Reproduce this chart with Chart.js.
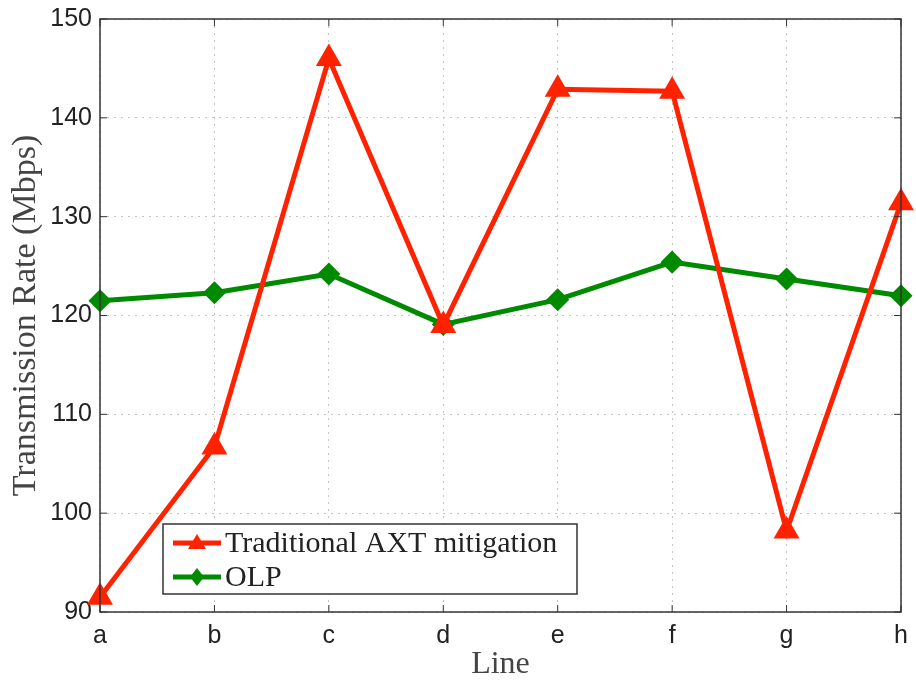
<!DOCTYPE html>
<html>
<head>
<meta charset="utf-8">
<script src="https://cdn.jsdelivr.net/npm/chart.js@4"></script>
<style>
  body { margin: 0; background: #fff; }
  #wrap { width: 916px; height: 681px; }
</style>
</head>
<body>
<div id="wrap"><canvas id="rateChart"></canvas></div>
<script>
const lines = ["a", "b", "c", "d", "e", "f", "g", "h"];
const traditional = [91.5, 106.7, 146.0, 119.0, 142.9, 142.7, 98.2, 131.4];
const olp = [121.5, 122.3, 124.2, 119.1, 121.6, 125.4, 123.7, 122.0];
const yTicks = [90, 100, 110, 120, 130, 140, 150];

const red = "#ff2200";
const green = "#008a00";

// frame, inward ticks and legend drawn like the matlab figure
const framePlugin = {
  id: "frame",
  afterDatasetsDraw(chart) {
    const { ctx, chartArea: a, scales } = chart;
    ctx.save();
    ctx.strokeStyle = "#333";
    ctx.lineWidth = 1.5;
    ctx.strokeRect(a.left, a.top, a.right - a.left, a.bottom - a.top);
    ctx.lineWidth = 1;
    lines.forEach((l, i) => {
      const x = scales.x.getPixelForValue(i);
      ctx.beginPath();
      ctx.moveTo(x, a.bottom); ctx.lineTo(x, a.bottom - 7);
      ctx.moveTo(x, a.top); ctx.lineTo(x, a.top + 7);
      ctx.stroke();
    });
    yTicks.forEach(v => {
      const y = scales.y.getPixelForValue(v);
      ctx.beginPath();
      ctx.moveTo(a.left, y); ctx.lineTo(a.left + 7, y);
      ctx.moveTo(a.right, y); ctx.lineTo(a.right - 7, y);
      ctx.stroke();
    });

    // legend box
    const bx = 163, by = 524, bw = 414, bh = 70;
    ctx.fillStyle = "#fff";
    ctx.fillRect(bx, by, bw, bh);
    ctx.strokeStyle = "#333";
    ctx.lineWidth = 1.5;
    ctx.strokeRect(bx, by, bw, bh);
    ctx.font = "30px 'Liberation Serif', serif";
    ctx.textBaseline = "middle";
    chart.data.datasets.forEach((ds, i) => {
      const y = by + 19 + i * 34;
      ctx.strokeStyle = ds.borderColor;
      ctx.lineWidth = 5;
      ctx.beginPath();
      ctx.moveTo(bx + 10, y); ctx.lineTo(bx + 58, y);
      ctx.stroke();
      ctx.fillStyle = ds.borderColor;
      ctx.beginPath();
      const cx = bx + 34;
      if (ds.pointStyle === "triangle") {
        ctx.moveTo(cx, y - 9); ctx.lineTo(cx + 9, y + 6); ctx.lineTo(cx - 9, y + 6);
      } else {
        ctx.moveTo(cx, y - 9); ctx.lineTo(cx + 7, y); ctx.lineTo(cx, y + 9); ctx.lineTo(cx - 7, y);
      }
      ctx.closePath();
      ctx.fill();
      ctx.fillStyle = "#222";
      ctx.fillText(ds.label, bx + 62, y + 1);
    });
    ctx.restore();
  }
};

new Chart(document.getElementById("rateChart"), {
  type: "line",
  data: {
    labels: lines,
    datasets: [
      {
        label: "Traditional AXT mitigation",
        data: traditional,
        borderColor: red,
        backgroundColor: red,
        borderWidth: 5,
        pointStyle: "triangle",
        pointRadius: 10,
        pointHoverRadius: 10,
        tension: 0,
        clip: false
      },
      {
        label: "OLP",
        data: olp,
        borderColor: green,
        backgroundColor: green,
        borderWidth: 5,
        pointStyle: "rectRot",
        pointRadius: 8,
        pointHoverRadius: 8,
        tension: 0,
        clip: false
      }
    ]
  },
  options: {
    responsive: true,
    maintainAspectRatio: false,
    animation: false,
    layout: { padding: 0 },
    plugins: {
      legend: { display: false },
      tooltip: { enabled: false }
    },
    scales: {
      x: {
        offset: false,
        afterFit: axis => {
          axis.height = 69;
          axis.paddingLeft = 0;
          axis.paddingRight = 9;
        },
        grid: { color: "#c4c4c4", lineWidth: 1, drawTicks: false },
        border: { display: false, dash: [2, 5] },
        ticks: { color: "#222", font: { family: "'Liberation Sans', Arial", size: 25 }, padding: 9 },
        title: {
          display: true,
          text: "Line",
          color: "#444",
          font: { family: "'Liberation Serif', serif", size: 32 },
          padding: { top: 0, bottom: -3 }
        }
      },
      y: {
        min: 90,
        max: 150,
        afterFit: axis => {
          axis.width = 100;
          axis.paddingTop = 19;
          axis.paddingBottom = 0;
        },
        afterBuildTicks: axis => { axis.ticks = yTicks.map(v => ({ value: v })); },
        grid: { color: "#c4c4c4", lineWidth: 1, drawTicks: false },
        border: { display: false, dash: [2, 5] },
        ticks: { color: "#222", font: { family: "'Liberation Sans', Arial", size: 25 }, padding: 8 },
        title: {
          display: true,
          text: "Transmission Rate (Mbps)",
          color: "#444",
          font: { family: "'Liberation Serif', serif", size: 34 },
          padding: { top: 6, bottom: 0 }
        }
      }
    }
  },
  plugins: [framePlugin]
});
</script>
</body>
</html>
